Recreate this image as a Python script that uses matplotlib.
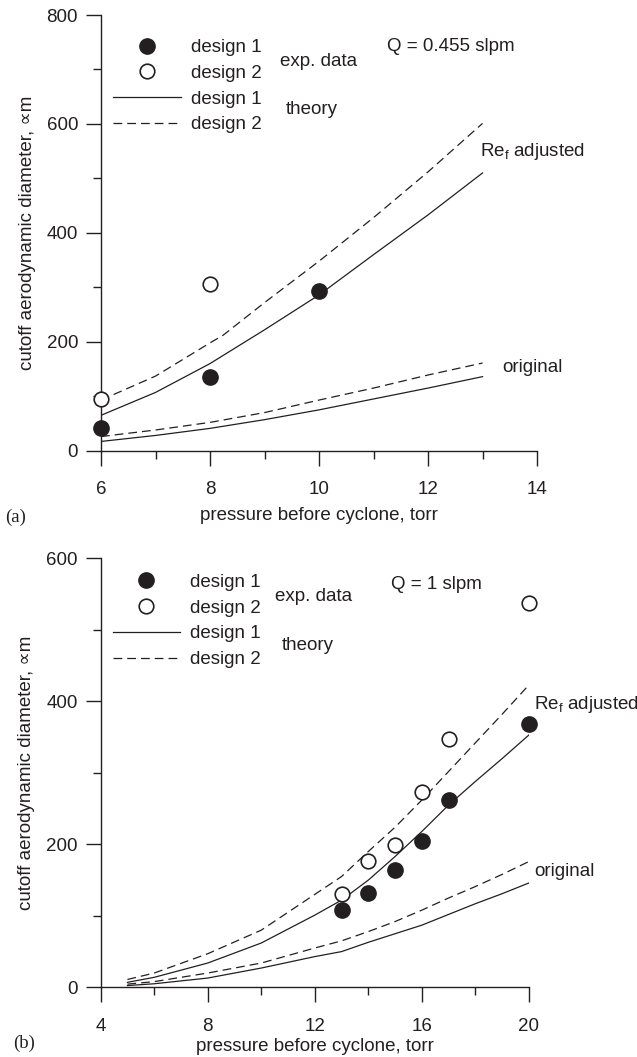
import matplotlib
matplotlib.use('Agg')
import matplotlib.pyplot as plt
from matplotlib.ticker import MultipleLocator

plt.rcParams['font.family'] = ['Liberation Sans', 'DejaVu Sans']
plt.rcParams['mathtext.fontset'] = 'custom'
plt.rcParams['mathtext.rm'] = 'Liberation Sans'
plt.rcParams['mathtext.it'] = 'Liberation Sans'

INK = '#231f20'

# panel (a): Q = 0.455 slpm
a_exp1_x = [6, 8, 10]
a_exp1_y = [42, 136, 294]
a_exp2_x = [6, 8]
a_exp2_y = [95, 306]

a_adj_x = [6, 7, 8, 9, 10, 11, 12, 13]
a_adj1_y = [65, 107, 160, 222, 286, 360, 433, 510]
a_adj2_x = [6, 7, 8, 8.24, 9, 10, 11, 12, 13]
a_adj2_y = [93, 137, 198, 212, 272, 348, 428, 512, 601]

a_org_x = [6, 7, 8, 9, 10, 11, 12, 13]
a_org1_y = [17, 28, 41, 57, 75, 95, 115, 136]
a_org2_y = [26, 38, 52, 70, 93, 115, 139, 161]

# panel (b): Q = 1 slpm
b_exp1_x = [13, 14, 15, 16, 17, 20]
b_exp1_y = [108, 132, 164, 205, 262, 368]
b_exp2_x = [13, 14, 15, 16, 17, 20]
b_exp2_y = [130, 177, 199, 273, 348, 538]

b_th_x = [5, 6, 8, 10, 12, 13, 14, 15, 16, 17, 18, 19, 20]
b_adj1_y = [7, 14, 34, 62, 101, 122, 150, 183, 218, 255, 288, 320, 353]
b_adj2_y = [11, 20, 47, 80, 130, 155, 190, 224, 262, 302, 342, 382, 423]
b_org1_y = [2.5, 5, 13, 27, 43, 50, 63, 75, 87, 102, 117, 131, 146]
b_org2_y = [4.5, 8, 20, 34, 55, 65, 78, 92, 108, 125, 141, 158, 176]

FS = 13.5
DASH = (7, 4)


def draw_panel(ax, exp1, exp2, adj1, adj2, org1, org2, legend_top, xpad):
    ax.plot(*exp1, 'o', ms=11, color=INK, label='design 1', zorder=4,
            clip_on=False)
    ax.plot(*exp2, 'o', ms=10.5, mfc='white', mec=INK, mew=1.2,
            label='design 2', zorder=4, clip_on=False)
    ax.plot(*adj1, '-', lw=0.9, color=INK, label='design 1')
    ax.plot(*adj2, lw=0.9, color=INK, dashes=DASH, label='design 2')
    ax.plot(*org1, '-', lw=0.9, color=INK)
    ax.plot(*org2, lw=0.9, color=INK, dashes=DASH)

    for side in ('top', 'right'):
        ax.spines[side].set_visible(False)
    for side in ('left', 'bottom'):
        ax.spines[side].set_linewidth(1.0)
        ax.spines[side].set_color(INK)
    ax.tick_params(which='major', direction='out', length=10.5, width=1.0,
                   color=INK, labelsize=FS, labelcolor=INK, pad=6)
    ax.tick_params(axis='x', which='major', length=11, pad=11)
    ax.tick_params(which='minor', direction='out', length=6, width=1.0,
                   color=INK)
    ax.set_xlabel('pressure before cyclone, torr', fontsize=FS, color=INK,
                  labelpad=xpad)
    ax.set_ylabel('cutoff aerodynamic diameter, \u221dm', fontsize=FS,
                  color=INK, labelpad=8)
    ax.legend(loc='upper left', frameon=False, fontsize=FS,
              handlelength=3.6, handletextpad=0.55, labelspacing=0.46,
              borderpad=0, borderaxespad=0,
              bbox_to_anchor=(0.028, legend_top), labelcolor=INK)


fig = plt.figure(figsize=(6.37, 10.57), dpi=100)

ax1 = fig.add_axes([0.1586, 0.5736, 0.6845, 0.4122])
draw_panel(ax1, (a_exp1_x, a_exp1_y), (a_exp2_x, a_exp2_y),
           (a_adj_x, a_adj1_y), (a_adj2_x, a_adj2_y),
           (a_org_x, a_org1_y), (a_org_x, a_org2_y), 0.945, 6)
ax1.set_xlim(6, 14)
ax1.set_ylim(0, 800)
ax1.xaxis.set_major_locator(MultipleLocator(2))
ax1.xaxis.set_minor_locator(MultipleLocator(1))
ax1.yaxis.set_major_locator(MultipleLocator(200))
ax1.yaxis.set_minor_locator(MultipleLocator(100))
ax1.text(9.28, 714, 'exp. data', fontsize=FS, color=INK, va='center')
ax1.text(9.39, 627, 'theory', fontsize=FS, color=INK, va='center')
ax1.text(11.24, 742, 'Q = 0.455 slpm', fontsize=FS, color=INK, va='center')
ax1.text(12.95, 549, r'Re$_\mathregular{f}$ adjusted', fontsize=FS,
         color=INK, va='center')
ax1.text(13.37, 152, 'original', fontsize=FS, color=INK, va='center')
ax1.text(-0.22, -0.152, '(a)', transform=ax1.transAxes, fontsize=FS,
         family='Liberation Serif', color=INK, va='center')

ax2 = fig.add_axes([0.158, 0.0659, 0.6724, 0.4059])
draw_panel(ax2, (b_exp1_x, b_exp1_y), (b_exp2_x, b_exp2_y),
           (b_th_x, b_adj1_y), (b_th_x, b_adj2_y),
           (b_th_x, b_org1_y), (b_th_x, b_org2_y), 0.964, 2)
ax2.set_xlim(4, 20)
ax2.set_ylim(0, 600)
ax2.xaxis.set_major_locator(MultipleLocator(4))
ax2.xaxis.set_minor_locator(MultipleLocator(2))
ax2.yaxis.set_major_locator(MultipleLocator(200))
ax2.yaxis.set_minor_locator(MultipleLocator(100))
ax2.text(10.53, 546, 'exp. data', fontsize=FS, color=INK, va='center')
ax2.text(10.78, 478, 'theory', fontsize=FS, color=INK, va='center')
ax2.text(14.84, 563, 'Q = 1 slpm', fontsize=FS, color=INK, va='center')
ax2.text(20.18, 395, r'Re$_\mathregular{f}$ adjusted', fontsize=FS,
         color=INK, va='center')
ax2.text(20.21, 162, 'original', fontsize=FS, color=INK, va='center')
ax2.text(-0.205, -0.13, '(b)', transform=ax2.transAxes, fontsize=FS,
         family='Liberation Serif', color=INK, va='center')

fig.savefig('out.png', dpi=100)
